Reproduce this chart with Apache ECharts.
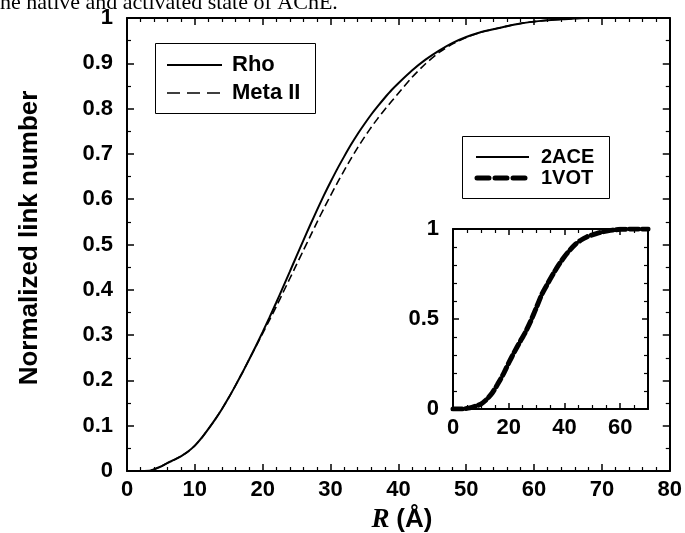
<!DOCTYPE html>
<html><head><meta charset="utf-8">
<script src="https://cdn.jsdelivr.net/npm/echarts@6/dist/echarts.min.js"></script>
<style>html,body{margin:0;padding:0;background:#fff}#c{width:685px;height:533px}</style>
</head><body><div id="c"></div><script>
// ---- main panel data ----
const mainRadius = [0,2,3.5,5,6,7,8,9,10,11,12,13,14,15,16,17,18,19,20,21,22,23,24,25,26,27,28,29,30,31,32,33,34,35,36,37,38,39,40,42,44,46,48,50,52,54,56,58,60,62,64,66,68,72,76,80];
const rhoValues = [0,0,0.001,0.01,0.018,0.025,0.033,0.043,0.056,0.073,0.093,0.114,0.137,0.162,0.189,0.217,0.246,0.276,0.307,0.339,0.372,0.406,0.44,0.475,0.509,0.543,0.576,0.608,0.638,0.667,0.694,0.72,0.744,0.766,0.787,0.806,0.824,0.841,0.856,0.884,0.908,0.928,0.945,0.958,0.968,0.975,0.982,0.988,0.992,0.995,0.997,0.999,1,1,1,1];
const metaValues = [0,0,0.001,0.01,0.018,0.025,0.033,0.043,0.056,0.073,0.093,0.114,0.137,0.162,0.189,0.217,0.246,0.275,0.304,0.333,0.363,0.394,0.425,0.456,0.487,0.518,0.549,0.579,0.608,0.636,0.663,0.689,0.714,0.737,0.759,0.779,0.798,0.816,0.834,0.869,0.899,0.924,0.943,0.957,0.968,0.975,0.982,0.988,0.992,0.995,0.997,0.999,1,1,1,1];
const mainXTicks = [0,10,20,30,40,50,60,70,80];
const mainYTicks = [0,0.1,0.2,0.3,0.4,0.5,0.6,0.7,0.8,0.9,1];
// ---- inset data ----
const insetRadius = [0,2,4,6,8,10,12,14,16,18,20,22,24,26,28,30,32,34,36,38,40,42,44,46,48,50,52,54,56,58,60,62,64,66,68,70];
const ace2Values = [0,0,0.001,0.006,0.014,0.025,0.05,0.085,0.135,0.19,0.255,0.315,0.37,0.425,0.49,0.565,0.64,0.695,0.75,0.8,0.845,0.883,0.915,0.938,0.955,0.966,0.976,0.985,0.991,0.995,0.998,0.999,1,1,1,1];
const vot1Values = [0,0,0.001,0.006,0.015,0.027,0.052,0.087,0.137,0.192,0.256,0.316,0.372,0.427,0.492,0.566,0.641,0.697,0.752,0.802,0.846,0.884,0.916,0.939,0.956,0.967,0.977,0.985,0.991,0.995,0.998,0.999,1,1,1,1];

const FONT = '"Liberation Sans", Arial, sans-serif';
const pair = (xs, ys) => xs.map((x, i) => [x, ys[i]]);

function axisX(grid, pos, min, max, interval, split, showLabel, fs, tickLen, minorLen, margin) {
  return {
    type: 'value', gridIndex: grid, position: pos, min: min, max: max, interval: interval,
    axisLine: { show: true, onZero: false, lineStyle: { color: '#000', width: 2 } },
    axisTick: { show: true, inside: true, length: tickLen, lineStyle: { color: '#000', width: 1.5 } },
    minorTick: { show: true, splitNumber: split, length: minorLen, lineStyle: { color: '#000', width: 1.2 } },
    splitLine: { show: false }, minorSplitLine: { show: false },
    axisLabel: { show: showLabel, color: '#000', fontFamily: FONT, fontWeight: 'bold', fontSize: fs, margin: margin }
  };
}

const insetX = axisX(1, 'bottom', 0, 70, 20, 4, true, 22, 6, 4, 8);
insetX.axisLabel.showMaxLabel = false;

const chart = echarts.init(document.getElementById('c'), null, { renderer: 'canvas' });
chart.setOption({
  backgroundColor: '#fff',
  animation: false,
  grid: [
    { left: 127, top: 18, width: 544, height: 453 },
    { left: 453, top: 229, width: 195, height: 180 }
  ],
  xAxis: [
    axisX(0, 'bottom', mainXTicks[0], mainXTicks[mainXTicks.length - 1], 10, 5, true, 22, 7, 4, 8),
    axisX(0, 'top', 0, 80, 10, 5, false, 22, 7, 4, 8),
    insetX,
    axisX(1, 'top', 0, 70, 20, 4, false, 22, 6, 4, 8)
  ],
  yAxis: [
    axisX(0, 'left', mainYTicks[0], mainYTicks[mainYTicks.length - 1], 0.1, 2, true, 22, 7, 4, 14),
    axisX(0, 'right', 0, 1, 0.1, 2, false, 22, 7, 4, 14),
    axisX(1, 'left', 0, 1, 0.5, 5, true, 22, 6, 4, 14),
    axisX(1, 'right', 0, 1, 0.5, 5, false, 22, 6, 4, 14)
  ],
  series: [
    { name: 'Rho', type: 'line', xAxisIndex: 0, yAxisIndex: 0, data: pair(mainRadius, rhoValues),
      showSymbol: false, smooth: 0.2, lineStyle: { color: '#000', width: 2 } },
    { name: 'Meta II', type: 'line', xAxisIndex: 0, yAxisIndex: 0, data: pair(mainRadius, metaValues),
      showSymbol: false, smooth: 0.2, lineStyle: { color: '#000', width: 1.6, type: [8, 4] } },
    { name: '2ACE', type: 'line', xAxisIndex: 2, yAxisIndex: 2, data: pair(insetRadius, ace2Values),
      showSymbol: false, smooth: 0.2, lineStyle: { color: '#000', width: 1.5 } },
    { name: '1VOT', type: 'line', xAxisIndex: 2, yAxisIndex: 2, data: pair(insetRadius, vot1Values),
      showSymbol: false, smooth: 0.2, lineStyle: { color: '#000', width: 5, type: [9, 4], cap: 'round' } }
  ],
  graphic: [
    { type: 'text', left: 0, top: -8, style: { text: 'he native and activated state of AChE.', font: '22px "Liberation Serif", "Times New Roman", serif', fill: '#000' } },
    // main legend
    { type: 'rect', shape: { x: 155.5, y: 43.5, width: 160, height: 70 }, style: { fill: '#fff', stroke: '#000', lineWidth: 1 } },
    { type: 'line', shape: { x1: 167, y1: 65, x2: 222, y2: 65 }, style: { stroke: '#000', lineWidth: 2 } },
    { type: 'line', shape: { x1: 167, y1: 93, x2: 222, y2: 93 }, style: { stroke: '#000', lineWidth: 1.6, lineDash: [13, 7] } },
    { type: 'text', x: 232, y: 65, style: { text: 'Rho', font: 'bold 22px ' + FONT, fill: '#000', verticalAlign: 'middle', align: 'left' } },
    { type: 'text', x: 232, y: 93, style: { text: 'Meta II', font: 'bold 22px ' + FONT, fill: '#000', verticalAlign: 'middle', align: 'left' } },
    // inset legend
    { type: 'rect', shape: { x: 462.5, y: 136.5, width: 147, height: 62 }, style: { fill: '#fff', stroke: '#000', lineWidth: 1 } },
    { type: 'line', shape: { x1: 476, y1: 157, x2: 529, y2: 157 }, style: { stroke: '#000', lineWidth: 2 } },
    { type: 'line', shape: { x1: 477, y1: 178, x2: 528, y2: 178 }, style: { stroke: '#000', lineWidth: 5, lineDash: [12, 6], lineCap: 'round' } },
    { type: 'text', x: 541, y: 157, style: { text: '2ACE', font: 'bold 20px ' + FONT, fill: '#000', verticalAlign: 'middle', align: 'left' } },
    { type: 'text', x: 541, y: 178, style: { text: '1VOT', font: 'bold 20px ' + FONT, fill: '#000', verticalAlign: 'middle', align: 'left' } },
    // axis titles
    { type: 'text', x: 30, y: 238, rotation: Math.PI / 2, style: { text: 'Normalized link number', font: 'bold 26px ' + FONT, fill: '#000', align: 'center', verticalAlign: 'middle' } },
    { type: 'text', x: 402, y: 520, style: {
        text: '{r|R}  {s|(Å)}', align: 'center', verticalAlign: 'middle', fill: '#000',
        rich: { r: { font: 'bold italic 27px "Liberation Serif", "Times New Roman", serif', fill: '#000' },
                s: { font: 'bold 26px ' + FONT, fill: '#000' } } } }
  ]
});
</script></body></html>
